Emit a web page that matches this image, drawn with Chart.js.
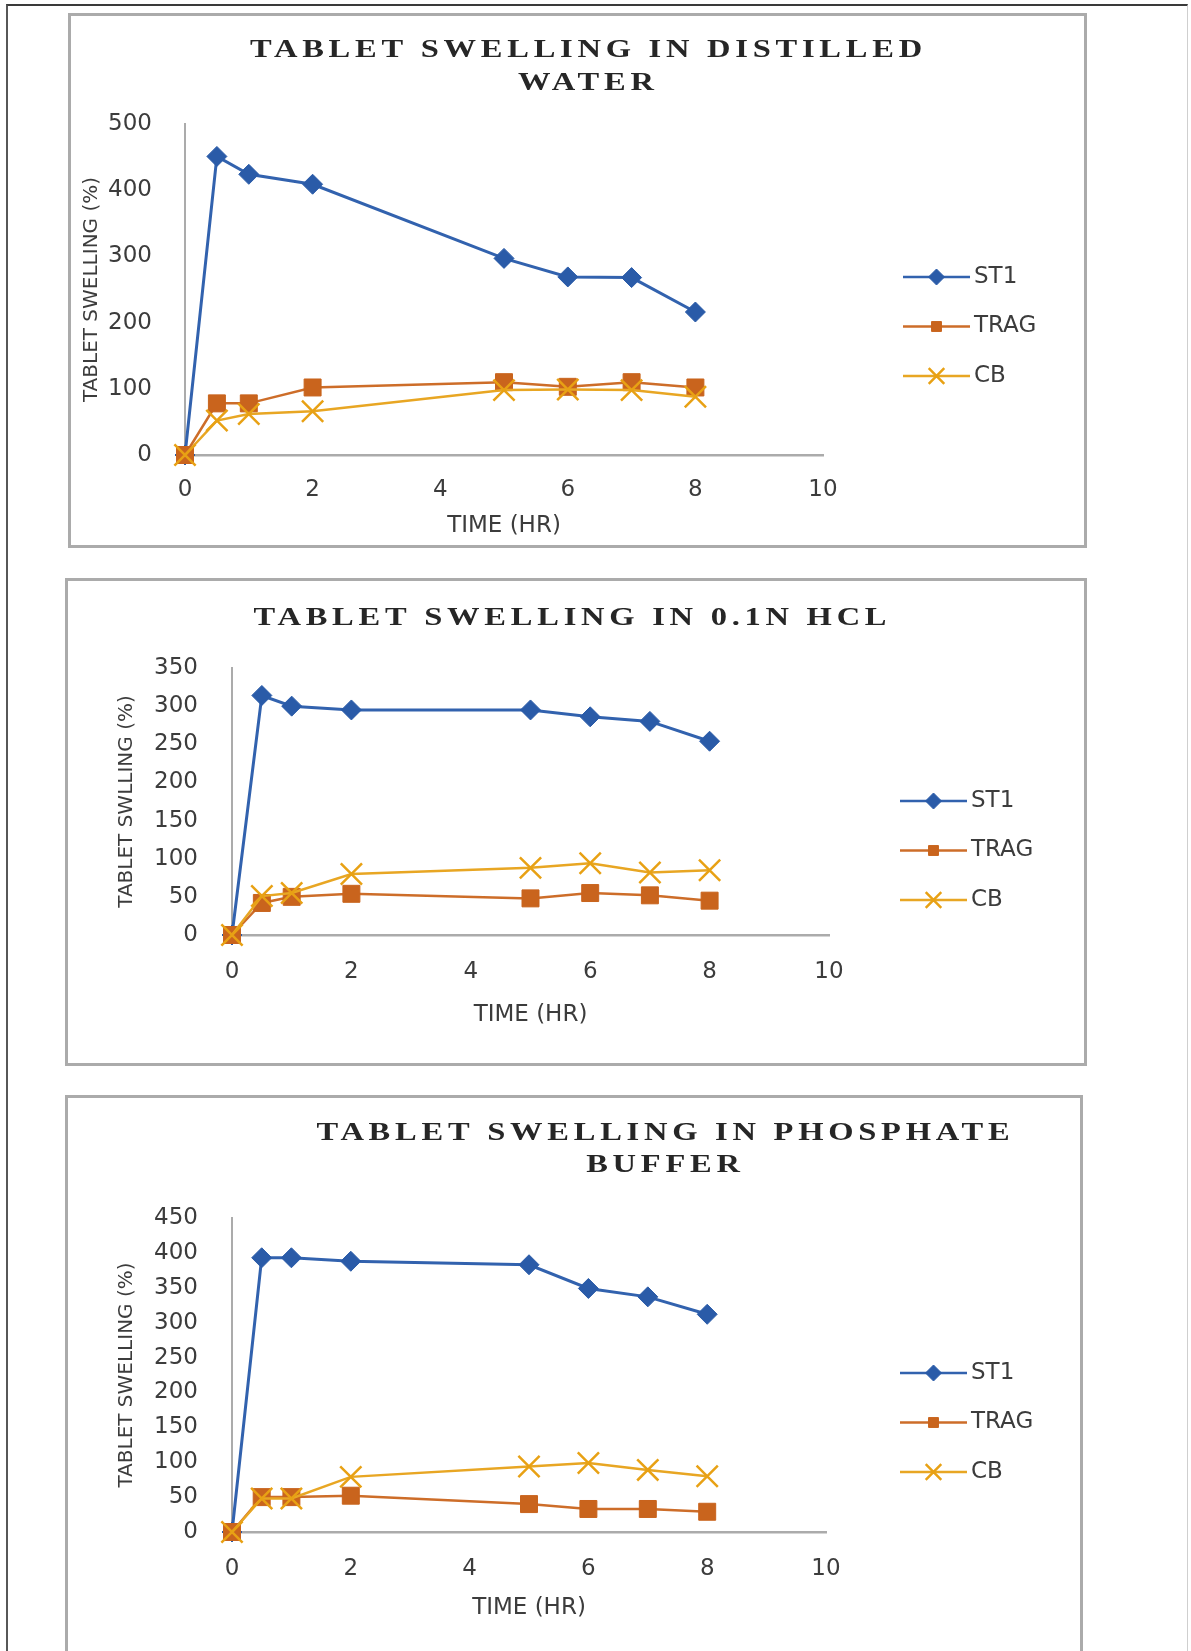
<!DOCTYPE html>
<html>
<head>
<meta charset="utf-8">
<title>Tablet swelling</title>
<script src="https://cdn.jsdelivr.net/npm/chart.js@4/dist/chart.umd.min.js"></script>
<style>
  html, body { margin: 0; padding: 0; background: #ffffff; }
  body { width: 1191px; height: 1651px; position: relative; overflow: hidden; }
  .frame {
    position: absolute; left: 6px; top: 4px; width: 1182px; height: 1720px;
    border-top: 2px solid #3a3a3a; border-left: 2px solid #575757; border-right: 1px solid #cfcfcf;
    box-sizing: border-box;
  }
  .panel { position: absolute; border: 3px solid #ababab; box-sizing: border-box; }
  canvas { position: absolute; }
</style>
</head>
<body>
<div class="frame"></div>
<div class="panel" id="box1"></div>
<div class="panel" id="box2"></div>
<div class="panel" id="box3"></div>
<canvas id="c1"></canvas>
<canvas id="c2"></canvas>
<canvas id="c3"></canvas>
<script>
// Sampling times (hours)
const hours = [0, 0.5, 1, 2, 5, 6, 7, 8];
const seriesNames = ['ST1', 'TRAG', 'CB'];
const timeTicks = [0, 2, 4, 6, 8, 10];

// Swelling (%) in distilled water
const waterST1  = [0, 451, 424, 409, 297, 269, 268, 216];
const waterTRAG = [0, 78, 78, 102, 110, 103, 110, 102];
const waterCB   = [0, 52, 62, 66, 98, 99, 98, 88];
const waterTicks = [0, 100, 200, 300, 400, 500];

// Swelling (%) in 0.1N HCl
const hclST1  = [0, 314, 300, 295, 295, 286, 280, 254];
const hclTRAG = [0, 42, 50, 54, 48, 55, 52, 45];
const hclCB   = [0, 51, 55, 80, 88, 94, 82, 85];
const hclTicks = [0, 50, 100, 150, 200, 250, 300, 350];

// Swelling (%) in phosphate buffer
const bufST1  = [0, 393, 393, 388, 383, 349, 337, 312];
const bufTRAG = [0, 50, 50, 52, 40, 33, 33, 29];
const bufCB   = [0, 48, 48, 79, 94, 99, 89, 80];
const bufTicks = [0, 50, 100, 150, 200, 250, 300, 350, 400, 450];

const BLUE = '#2A5BA8', BLUE_LINE = '#3262AE';
const ORANGE = '#C9641D', ORANGE_LINE = '#CD6D29';
const GOLD = '#E8A114', GOLD_LINE = '#E8A623';
const AXIS = '#ababab';
const TEXT = '#3c3c3c';
const SANS = '"DejaVu Sans", "Liberation Sans", sans-serif';

function points(vals) { return hours.map((h, i) => ({ x: h, y: vals[i] })); }

// Multi-line, widened, letter-spaced serif heading
function headingPlugin(cfg) {
  return {
    id: 'heading',
    afterDraw(chart) {
      const ctx = chart.ctx;
      cfg.lines.forEach((line, i) => {
        ctx.save();
        ctx.font = 'bold 26px "Liberation Serif", "DejaVu Serif", serif';
        ctx.fillStyle = '#262626';
        ctx.textBaseline = 'middle';
        ctx.textAlign = 'left';
        ctx.letterSpacing = cfg.spacing + 'px';
        const w = ctx.measureText(line).width - cfg.spacing;
        ctx.translate(cfg.cx, cfg.top + i * cfg.lineGap);
        ctx.scale(cfg.stretch, 1);
        ctx.fillText(line, -w / 2, 0);
        ctx.restore();
      });
    }
  };
}

// Key on the right: line with marker, then series name
function keyPlugin(cfg) {
  return {
    id: 'sideKey',
    afterDraw(chart) {
      const ctx = chart.ctx;
      ctx.save();
      chart.data.datasets.forEach((ds, i) => {
        const y = cfg.top + i * cfg.gap;
        ctx.strokeStyle = ds.borderColor;
        ctx.lineWidth = 2.5;
        ctx.beginPath();
        ctx.moveTo(cfg.x1, y);
        ctx.lineTo(cfg.x2, y);
        ctx.stroke();
        ctx.fillStyle = ds.pointBackgroundColor;
        ctx.strokeStyle = ds.pointBorderColor;
        ctx.lineWidth = ds.pointStyle === 'crossRot' ? 2.5 : 1;
        Chart.helpers.drawPoint(ctx, {
          pointStyle: ds.pointStyle, rotation: 0,
          radius: ds.keyRadius, borderWidth: ctx.lineWidth
        }, (cfg.x1 + cfg.x2) / 2, y);
        ctx.fillStyle = TEXT;
        ctx.font = '23px ' + SANS;
        ctx.textAlign = 'left';
        ctx.textBaseline = 'middle';
        ctx.fillText(ds.label, cfg.x2 + 4, y);
      });
      ctx.restore();
    }
  };
}

function makeChart(spec) {
  const box = document.getElementById(spec.box);
  Object.assign(box.style, { left: spec.x + 'px', top: spec.y + 'px', width: spec.w + 'px', height: spec.h + 'px' });
  const canvas = document.getElementById(spec.canvas);
  canvas.width = spec.w; canvas.height = spec.h;
  Object.assign(canvas.style, { left: spec.x + 'px', top: spec.y + 'px', width: spec.w + 'px', height: spec.h + 'px' });

  const datasets = [
    { label: seriesNames[0], data: points(spec.st1), borderColor: BLUE_LINE, borderWidth: 3,
      pointStyle: 'rectRot', pointRadius: 10, keyRadius: 8,
      pointBackgroundColor: BLUE, pointBorderColor: BLUE, pointBorderWidth: 1, order: 3 },
    { label: seriesNames[1], data: points(spec.trag), borderColor: ORANGE_LINE, borderWidth: 2.5,
      pointStyle: 'rect', pointRadius: 12, keyRadius: 7,
      pointBackgroundColor: ORANGE, pointBorderColor: ORANGE, pointBorderWidth: 1, order: 2 },
    { label: seriesNames[2], data: points(spec.cb), borderColor: GOLD_LINE, borderWidth: 2.5,
      pointStyle: 'crossRot', pointRadius: 15, keyRadius: 11,
      pointBackgroundColor: GOLD, pointBorderColor: GOLD, pointBorderWidth: 2.5, order: 1 }
  ];
  datasets.forEach(d => { d.tension = 0; d.clip = false; d.pointHoverRadius = d.pointRadius; });

  return new Chart(canvas, {
    type: 'line',
    data: { datasets },
    options: {
      responsive: false,
      animation: false,
      devicePixelRatio: 1,
      layout: { padding: { left: 0, top: spec.area.top, right: spec.w - spec.area.right, bottom: spec.padBottom } },
      plugins: { legend: { display: false }, tooltip: { enabled: false }, title: { display: false } },
      scales: {
        x: {
          type: 'linear',
          min: timeTicks[0], max: timeTicks[timeTicks.length - 1],
          grid: { display: false },
          border: { display: true, color: AXIS, width: 2.5 },
          ticks: { stepSize: timeTicks[1] - timeTicks[0], padding: spec.xTickPad, color: TEXT,
                   font: { family: SANS, size: 23 }, maxRotation: 0, minRotation: 0 },
          title: { display: true, text: 'TIME (HR)', color: TEXT, font: { family: SANS, size: 23 },
                   padding: { top: 0, bottom: spec.xTitlePad } },
          afterFit(s) { s.height = spec.xHeight; }
        },
        y: {
          min: spec.yTicks[0], max: spec.yTicks[spec.yTicks.length - 1],
          grid: { display: false },
          border: { display: true, color: AXIS, width: 2 },
          ticks: { stepSize: spec.yTicks[1] - spec.yTicks[0], padding: spec.yTickPad, color: TEXT,
                   font: { family: SANS, size: 23 } },
          title: { display: true, text: spec.yTitle, color: TEXT, font: { family: SANS, size: 20 },
                   padding: { top: spec.yTitlePad, bottom: 0 } },
          afterFit(s) { s.width = spec.area.left; }
        }
      }
    },
    plugins: [headingPlugin(spec.heading), keyPlugin(spec.key)]
  });
}

makeChart({
  box: 'box1', canvas: 'c1', x: 68, y: 13, w: 1019, h: 535,
  area: { left: 117, right: 755, top: 111 }, padBottom: 0, xHeight: 93,
  xTickPad: 13, xTitlePad: 8, yTickPad: 25, yTitlePad: 12,
  st1: waterST1, trag: waterTRAG, cb: waterCB, yTicks: waterTicks,
  yTitle: 'TABLET SWELLING (%)',
  heading: { lines: ['TABLET SWELLING IN DISTILLED', 'WATER'], cx: 518, top: 37, lineGap: 33, spacing: 3.8, stretch: 1.25 },
  key: { x1: 835, x2: 902, top: 264, gap: 49.5 }
});

makeChart({
  box: 'box2', canvas: 'c2', x: 65, y: 578, w: 1022, h: 488,
  area: { left: 167, right: 764, top: 90 }, padBottom: 31, xHeight: 100,
  xTickPad: 15, xTitlePad: 6, yTickPad: 26, yTitlePad: 50,
  st1: hclST1, trag: hclTRAG, cb: hclCB, yTicks: hclTicks,
  yTitle: 'TABLET SWLLING (%)',
  heading: { lines: ['TABLET SWELLING IN 0.1N HCL'], cx: 505, top: 40, lineGap: 33, spacing: 3.8, stretch: 1.25 },
  key: { x1: 835, x2: 902, top: 223, gap: 49.5 }
});

makeChart({
  box: 'box3', canvas: 'c3', x: 65, y: 1095, w: 1018, h: 620,
  area: { left: 167, right: 761, top: 123 }, padBottom: 83, xHeight: 100,
  xTickPad: 15, xTitlePad: 10, yTickPad: 26, yTitlePad: 50,
  st1: bufST1, trag: bufTRAG, cb: bufCB, yTicks: bufTicks,
  yTitle: 'TABLET SWELLING (%)',
  heading: { lines: ['TABLET SWELLING IN PHOSPHATE', 'BUFFER'], cx: 598, top: 38, lineGap: 32, spacing: 3.8, stretch: 1.25 },
  key: { x1: 835, x2: 902, top: 278, gap: 49.5 }
});
</script>
</body>
</html>
